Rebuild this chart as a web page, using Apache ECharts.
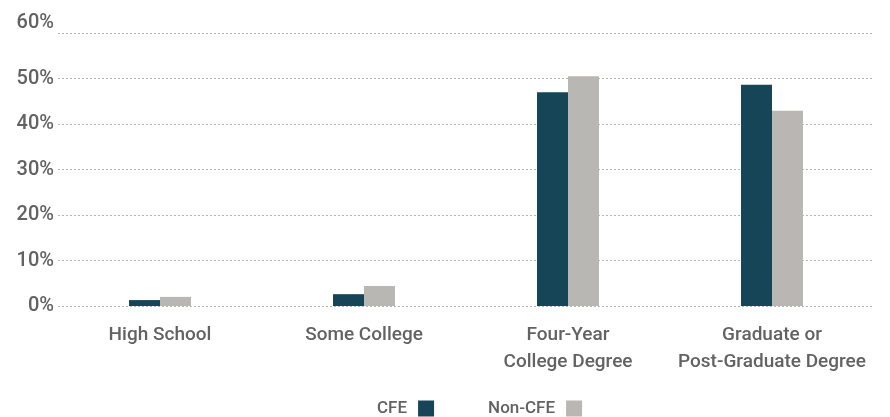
<!DOCTYPE html>
<html>
<head>
<meta charset="utf-8">
<script src="https://cdn.jsdelivr.net/npm/echarts@6/dist/echarts.min.js"></script>
<style>
  html, body { margin: 0; padding: 0; background: #ffffff; }
  #chart { width: 890px; height: 417px; }
</style>
</head>
<body>
<div id="chart"></div>
<script>
// Education level categories (x axis)
const categories = [
  'High School',
  'Some College',
  'Four-Year\nCollege Degree',
  'Graduate or\nPost-Graduate Degree'
];

// Share of respondents by education level, percent
const cfeValues = [1.3, 2.6, 47.0, 48.6];
const nonCfeValues = [2.0, 4.4, 50.5, 42.9];

// Y axis range and step, percent
const yMin = 0;
const yMax = 60;
const yStep = 10;

const textColor = '#626262';
const fontFamily = 'Roboto, "Open Sans", sans-serif';
const fontWeight = 500;

const chart = echarts.init(document.getElementById('chart'));
chart.setOption({
  animation: false,
  backgroundColor: '#ffffff',
  grid: { left: 58, right: 16, top: 33, bottom: 111, containLabel: false },
  legend: {
    bottom: -5,
    left: 372,
    align: 'right',
    itemGap: 54,
    itemWidth: 16,
    itemHeight: 16,
    icon: 'rect',
    textStyle: { color: textColor, fontSize: 17, fontWeight: fontWeight, fontFamily: fontFamily, padding: [0, 6, 0, 0] },
    data: ['CFE', 'Non-CFE']
  },
  xAxis: {
    type: 'category',
    data: categories,
    axisLine: { show: false },
    axisTick: { show: false },
    axisLabel: {
      color: textColor,
      fontSize: 19,
      fontWeight: fontWeight,
      fontFamily: fontFamily,
      lineHeight: 27,
      margin: 16,
      interval: 0
    }
  },
  yAxis: {
    type: 'value',
    min: yMin,
    max: yMax,
    interval: yStep,
    axisLine: { show: false },
    axisTick: { show: false },
    splitLine: { lineStyle: { color: '#b4b4b4', type: [2, 2], width: 1 } },
    axisLabel: {
      color: textColor,
      fontSize: 20,
      fontWeight: fontWeight,
      fontFamily: fontFamily,
      margin: 4,
      formatter: function (v) {
        return v === yMax ? '{top|' + v + '%}' : v + '%';
      },
      rich: {
        top: { color: textColor, fontSize: 20, fontWeight: fontWeight, fontFamily: fontFamily, padding: [0, 0, 20, 0] }
      }
    }
  },
  series: [
    {
      name: 'CFE',
      type: 'bar',
      data: cfeValues,
      barWidth: 31,
      barGap: '0%',
      itemStyle: { color: '#174558' }
    },
    {
      name: 'Non-CFE',
      type: 'bar',
      data: nonCfeValues,
      barWidth: 31,
      barGap: '0%',
      itemStyle: { color: '#b8b7b3' }
    }
  ]
});
</script>
</body>
</html>
